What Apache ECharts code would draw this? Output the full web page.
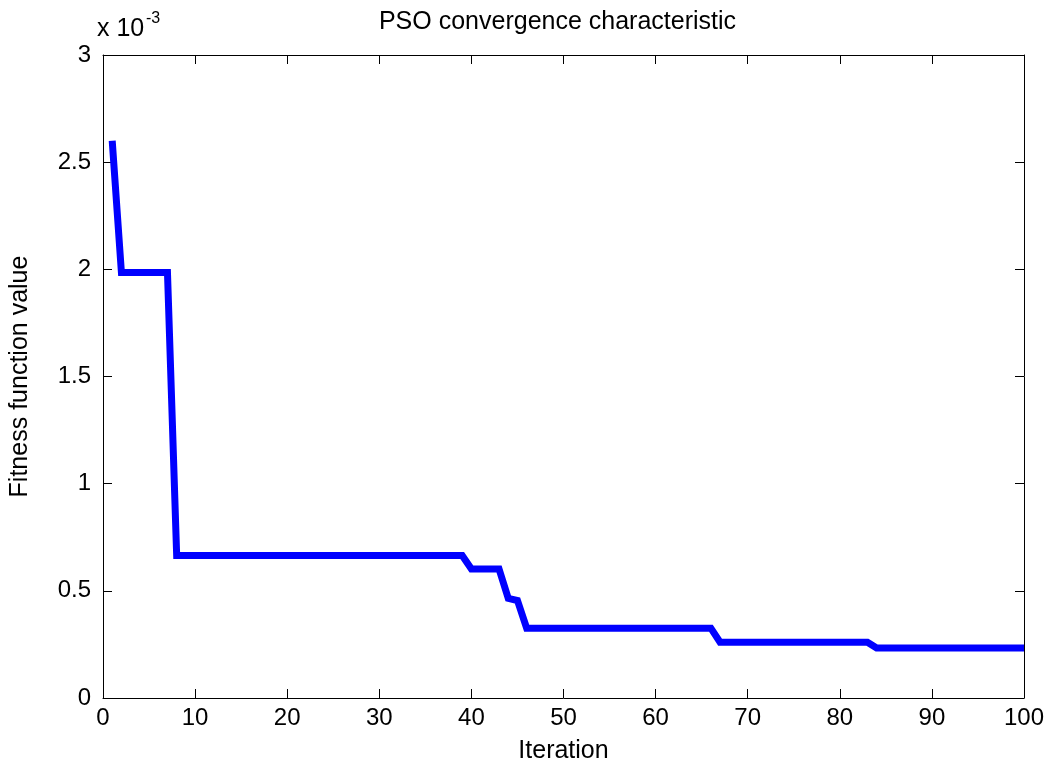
<!DOCTYPE html>
<html>
<head>
<meta charset="utf-8">
<script src="https://cdn.jsdelivr.net/npm/echarts@6/dist/echarts.min.js"></script>
<style>
  html, body { margin: 0; padding: 0; background: #ffffff; }
  #chart { width: 1051px; height: 769px; }
</style>
</head>
<body>
<div id="chart"></div>
<script>
// ---- Data ----
const titleText = 'PSO convergence characteristic';
const xAxisName = 'Iteration';
const yAxisName = 'Fitness function value';

const iterations = [
  1, 2, 3, 4, 5, 6, 7, 8, 9, 10,
  11, 12, 13, 14, 15, 16, 17, 18, 19, 20,
  21, 22, 23, 24, 25, 26, 27, 28, 29, 30,
  31, 32, 33, 34, 35, 36, 37, 38, 39, 40,
  41, 42, 43, 44, 45, 46, 47, 48, 49, 50,
  51, 52, 53, 54, 55, 56, 57, 58, 59, 60,
  61, 62, 63, 64, 65, 66, 67, 68, 69, 70,
  71, 72, 73, 74, 75, 76, 77, 78, 79, 80,
  81, 82, 83, 84, 85, 86, 87, 88, 89, 90,
  91, 92, 93, 94, 95, 96, 97, 98, 99, 100
];

const fitness = [
  0.002600, 0.001985, 0.001985, 0.001985, 0.001985, 0.001985, 0.001985, 0.000665, 0.000665, 0.000665,
  0.000665, 0.000665, 0.000665, 0.000665, 0.000665, 0.000665, 0.000665, 0.000665, 0.000665, 0.000665,
  0.000665, 0.000665, 0.000665, 0.000665, 0.000665, 0.000665, 0.000665, 0.000665, 0.000665, 0.000665,
  0.000665, 0.000665, 0.000665, 0.000665, 0.000665, 0.000665, 0.000665, 0.000665, 0.000665, 0.000602,
  0.000602, 0.000602, 0.000602, 0.000465, 0.000455, 0.000326, 0.000326, 0.000326, 0.000326, 0.000326,
  0.000326, 0.000326, 0.000326, 0.000326, 0.000326, 0.000326, 0.000326, 0.000326, 0.000326, 0.000326,
  0.000326, 0.000326, 0.000326, 0.000326, 0.000326, 0.000326, 0.000260, 0.000260, 0.000260, 0.000260,
  0.000260, 0.000260, 0.000260, 0.000260, 0.000260, 0.000260, 0.000260, 0.000260, 0.000260, 0.000260,
  0.000260, 0.000260, 0.000260, 0.000233, 0.000233, 0.000233, 0.000233, 0.000233, 0.000233, 0.000233,
  0.000233, 0.000233, 0.000233, 0.000233, 0.000233, 0.000233, 0.000233, 0.000233, 0.000233, 0.000233
];

const xMin = 0, xMax = 100, xStep = 10;
const yMin = 0, yMax = 0.003, yStep = 0.0005;
const yScaleLabel = 'x 10';
const yScaleExp = '-3';
const yScaleFactor = 1000;

// ---- Chart ----
const FONT = '"Liberation Sans", Arial, Helvetica, sans-serif';
const chart = echarts.init(document.getElementById('chart'), null, { renderer: 'canvas' });

const baseAxis = {
  axisLine: { show: true, onZero: false, lineStyle: { color: '#000', width: 1 } },
  axisTick: { show: true, inside: true, length: 9, lineStyle: { color: '#000', width: 1 } },
  splitLine: { show: false }
};

chart.setOption({
  animation: false,
  backgroundColor: '#ffffff',
  grid: { left: 98, right: 27, top: 55, bottom: 69, containLabel: false },
  xAxis: [
    Object.assign({}, baseAxis, {
      type: 'value', min: xMin, max: xMax, interval: xStep, position: 'bottom',
      axisLabel: { show: true, color: '#000', fontSize: 24, fontFamily: FONT, margin: 8 },
      name: xAxisName, nameLocation: 'middle', nameGap: 41,
      nameTextStyle: { color: '#000', fontSize: 25, fontFamily: FONT }
    }),
    Object.assign({}, baseAxis, {
      type: 'value', min: xMin, max: xMax, interval: xStep, position: 'top',
      axisLabel: { show: false }
    })
  ],
  yAxis: [
    Object.assign({}, baseAxis, {
      type: 'value', min: yMin, max: yMax, interval: yStep, position: 'left',
      axisLabel: {
        show: true, color: '#000', fontSize: 24, fontFamily: FONT, margin: 12,
        formatter: function (v) { return String(+(v * yScaleFactor).toFixed(1)); }
      },
      name: yAxisName, nameLocation: 'middle', nameGap: 70, nameRotate: 90,
      nameTextStyle: { color: '#000', fontSize: 25, fontFamily: FONT }
    }),
    Object.assign({}, baseAxis, {
      type: 'value', min: yMin, max: yMax, interval: yStep, position: 'right',
      axisLabel: { show: false }
    })
  ],
  graphic: [
    {
      type: 'text', x: 557.5, y: 10, silent: true,
      style: { text: titleText, fill: '#000', font: '25px ' + FONT, textAlign: 'center', textVerticalAlign: 'top' }
    },
    {
      type: 'text', x: 97, y: 17, silent: true,
      style: { text: yScaleLabel, fill: '#000', font: '25px ' + FONT, textAlign: 'left', textVerticalAlign: 'top' }
    },
    {
      type: 'text', x: 146, y: 11, silent: true,
      style: { text: yScaleExp, fill: '#000', font: '16px ' + FONT, textAlign: 'left', textVerticalAlign: 'top' }
    }
  ],
  series: [
    {
      type: 'line',
      xAxisIndex: 0, yAxisIndex: 0,
      data: iterations.map(function (it, i) { return [it, fitness[i]]; }),
      showSymbol: false,
      symbol: 'none',
      lineStyle: { color: '#0000ff', width: 7, cap: 'butt', join: 'miter' },
      clip: true
    }
  ]
});
</script>
</body>
</html>
